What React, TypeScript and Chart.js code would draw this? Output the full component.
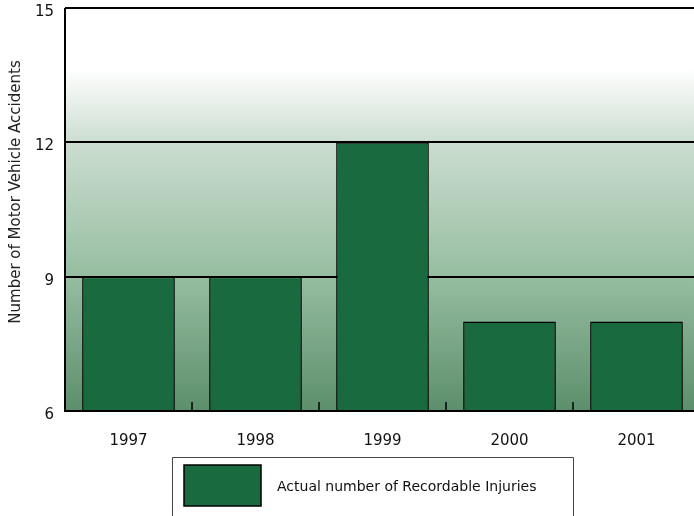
import React, { useEffect, useRef } from "react";
import { Chart, registerables } from "chart.js";

Chart.register(...registerables);

const categories = ["1997", "1998", "1999", "2000", "2001"];
const injuries = [9, 9, 12, 8, 8];
const seriesLabel = "Actual number of Recordable Injuries";
const yTitle = "Number of Motor Vehicle Accidents";
const yMin = 6;
const yMax = 15;
const yStep = 3;

const FONT = "'DejaVu Sans', sans-serif";
const BAR = "#1a6a40";

const bgPlugin = {
  id: "bgGradient",
  beforeDraw(chart: any) {
    const { ctx, chartArea: a } = chart;
    const ys = chart.scales.y;
    const g = ctx.createLinearGradient(0, a.top, 0, a.bottom);
    const h = a.bottom - a.top;
    const p12 = (ys.getPixelForValue(12) - a.top) / h;
    const p9 = (ys.getPixelForValue(9) - a.top) / h;
    g.addColorStop(0, "#ffffff");
    g.addColorStop(0.15, "#ffffff");
    g.addColorStop(p12, "rgb(203,221,208)");
    g.addColorStop(p9, "rgb(150,189,160)");
    g.addColorStop(1, "rgb(92,143,108)");
    ctx.save();
    ctx.fillStyle = g;
    ctx.fillRect(a.left, a.top, a.right - a.left, h);
    ctx.restore();
  },
  afterDatasetsDraw(chart: any) {
    const { ctx, chartArea: a } = chart;
    const xs = chart.scales.x;
    ctx.save();
    ctx.strokeStyle = "#000";
    ctx.lineWidth = 1.5;
    const n = chart.data.labels.length;
    for (let i = 0; i < n - 1; i++) {
      const x = (xs.getPixelForValue(i) + xs.getPixelForValue(i + 1)) / 2;
      ctx.beginPath();
      ctx.moveTo(x, a.bottom);
      ctx.lineTo(x, a.bottom - 9);
      ctx.stroke();
    }
    // axes
    ctx.lineWidth = 2;
    ctx.beginPath();
    ctx.moveTo(a.left, a.top);
    ctx.lineTo(a.left, a.bottom);
    ctx.lineTo(a.right, a.bottom);
    ctx.stroke();
    // y title
    ctx.save();
    ctx.translate(16, 192);
    ctx.rotate(-Math.PI / 2);
    ctx.fillStyle = "#222";
    ctx.font = `15px ${FONT}`;
    ctx.textAlign = "center";
    ctx.textBaseline = "middle";
    ctx.fillText(yTitle, 0, 0);
    ctx.restore();
    // legend
    const lx = 172, ly = 457, lw = 401;
    ctx.lineWidth = 1;
    ctx.strokeStyle = "#444";
    ctx.beginPath();
    ctx.moveTo(lx + 0.5, chart.height + 2);
    ctx.lineTo(lx + 0.5, ly + 0.5);
    ctx.lineTo(lx + lw + 0.5, ly + 0.5);
    ctx.lineTo(lx + lw + 0.5, chart.height + 2);
    ctx.stroke();
    const ds = chart.data.datasets[0];
    ctx.fillStyle = ds.backgroundColor;
    ctx.fillRect(184, 465, 77, 41);
    ctx.strokeStyle = "#000";
    ctx.lineWidth = 1.5;
    ctx.strokeRect(184, 465, 77, 41);
    ctx.fillStyle = "#111";
    ctx.font = `14px ${FONT}`;
    ctx.textBaseline = "middle";
    ctx.fillText(ds.label, 277, 487);
    ctx.restore();
  },
};

export default function App() {
  const ref = useRef<HTMLCanvasElement>(null);
  useEffect(() => {
    document.body.style.margin = "0";
    const chart = new Chart(ref.current!, {
      type: "bar",
      data: {
        labels: categories,
        datasets: [
          {
            label: seriesLabel,
            data: injuries,
            backgroundColor: BAR,
            borderColor: "#000",
            borderWidth: 1.5,
            categoryPercentage: 0.73,
            barPercentage: 1,
          },
        ],
      },
      options: {
        animation: false,
        responsive: false,
        maintainAspectRatio: false,
        layout: { padding: { top: 8, right: 0, bottom: 65, left: 0 } },
        plugins: { legend: { display: false }, tooltip: { enabled: false } },
        scales: {
          x: {
            grid: { display: false },
            border: { display: false },
            ticks: { color: "#111", font: { family: FONT, size: 15 }, padding: 13 },
            afterFit(s: any) {
              s.height = 40;
              s.paddingLeft = 0;
              s.paddingRight = 0;
            },
          },
          y: {
            min: yMin,
            max: yMax,
            ticks: {
              stepSize: yStep,
              color: "#111",
              font: { family: FONT, size: 15 },
              padding: 11,
              labelOffset: 4,
            },
            grid: {
              color: (c: any) => (c.tick && c.tick.value === yMin ? "rgba(0,0,0,0)" : "#000"),
              lineWidth: 2,
              drawTicks: false,
            },
            border: { display: false },
            afterFit(s: any) {
              s.width = 65;
              s.paddingTop = 0;
              s.paddingBottom = 0;
            },
          },
        },
      },
      plugins: [bgPlugin],
    });
    return () => chart.destroy();
  }, []);
  return (
    <div style={{ position: "absolute", left: 0, top: 0, width: 694, height: 516, overflow: "hidden" }}>
      <canvas ref={ref} width={700} height={516} style={{ width: 700, height: 516, display: "block" }} />
    </div>
  );
}
